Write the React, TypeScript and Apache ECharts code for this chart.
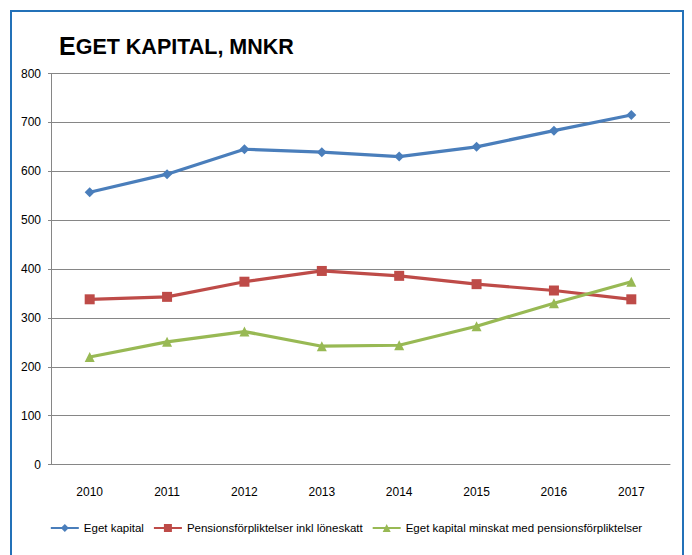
import React, { useEffect, useRef } from "react";
import * as echarts from "echarts";

const years = ["2010", "2011", "2012", "2013", "2014", "2015", "2016", "2017"];
const egetKapital = [557, 594, 645, 639, 630, 650, 683, 715];
const pension = [338, 343, 374, 396, 386, 369, 356, 338];
const minskat = [220, 251, 272, 242, 244, 283, 330, 374];
const seriesNames = [
  "Eget kapital",
  "Pensionsförpliktelser inkl löneskatt",
  "Eget kapital minskat med pensionsförpliktelser",
];

const FONT = "'Liberation Sans', Arial, sans-serif";

export default function App() {
  const ref = useRef<HTMLDivElement>(null);
  useEffect(() => {
    if (!ref.current) return;
    const chart = echarts.init(ref.current, undefined, { renderer: "svg" });
    const lineSeries = (name: string, data: number[], color: string, symbol: string, size: number) => ({
      name,
      type: "line",
      data,
      symbol,
      symbolSize: size,
      showSymbol: true,
      lineStyle: { color, width: 3.2 },
      itemStyle: { color },
    });
    chart.setOption({
      animation: false,
      backgroundColor: "#ffffff",
      graphic: [
        {
          type: "rect",
          shape: { x: 11, y: 11, width: 672, height: 560 },
          style: { fill: "none", stroke: "#2371B8", lineWidth: 2 },
          silent: true,
        },
        {
          type: "text",
          left: 59,
          top: 33,
          style: {
            text: "{a|E}{b|GET KAPITAL, MNKR}",
            rich: {
              a: { fontSize: 25, fontWeight: "bold", fontFamily: FONT, fill: "#000", verticalAlign: "bottom", lineHeight: 26 },
              b: { fontSize: 21.5, fontWeight: "bold", fontFamily: FONT, fill: "#000", verticalAlign: "bottom", lineHeight: 26 },
            },
          },
        },
      ],
      grid: { left: 51, right: 22, top: 73.5, bottom: 90.5, containLabel: false },
      legend: {
        bottom: 16,
        left: "center",
        itemWidth: 28,
        itemHeight: 10,
        itemGap: 9,
        textStyle: { fontFamily: FONT, fontSize: 11.5, color: "#000" },
        data: seriesNames,
      },
      xAxis: {
        type: "category",
        data: years,
        boundaryGap: true,
        axisLine: { show: true, lineStyle: { color: "#868686", width: 1 } },
        axisTick: { show: false },
        axisLabel: { fontFamily: FONT, fontSize: 12, color: "#000", margin: 21 },
      },
      yAxis: {
        type: "value",
        min: 0,
        max: 800,
        interval: 100,
        axisLine: { show: true, lineStyle: { color: "#868686", width: 1 } },
        axisTick: { show: true, length: 3, lineStyle: { color: "#868686" } },
        splitLine: { lineStyle: { color: "#868686", width: 1 } },
        axisLabel: { fontFamily: FONT, fontSize: 12, color: "#000", margin: 10 },
      },
      series: [
        lineSeries(seriesNames[0], egetKapital, "#4A7EBB", "diamond", 10),
        lineSeries(seriesNames[1], pension, "#BE4B48", "rect", 10),
        lineSeries(seriesNames[2], minskat, "#98B954", "triangle", 10),
      ],
    });
    return () => chart.dispose();
  }, []);
  return (
    <div
      ref={ref}
      style={{ position: "fixed", left: 0, top: 0, width: 692, height: 555 }}
    />
  );
}
